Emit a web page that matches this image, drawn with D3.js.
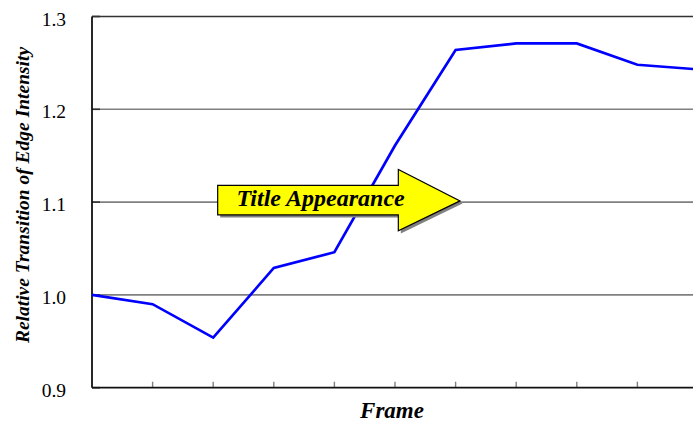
<!DOCTYPE html>
<html><head><meta charset="utf-8">
<script src="https://cdn.jsdelivr.net/npm/d3@7"></script>
<style>body{margin:0;background:#fff;overflow:hidden}svg{display:block}</style>
</head><body>
<script>
const frames = [0,1,2,3,4,5,6,7,8,9,10];
const intensity = [1.000,0.990,0.954,1.029,1.046,1.161,1.264,1.271,1.271,1.248,1.243];
const yTicks = [0.9,1.0,1.1,1.2,1.3];
const yTickLabels = ["0.9","1.0","1.1","1.2","1.3"];
const xTicks = [1,2,3,4,5,6,7,8,9];
const annotation = "Title Appearance";
const xTitle = "Frame";
const yTitle = "Relative Transition of Edge Intensity";

const W=693,H=423;
const svg=d3.select("body").append("svg").attr("width",W).attr("height",H);
const x=d3.scaleLinear().domain([0,10]).range([92,698]);
const y=d3.scaleLinear().domain([0.9,1.3]).range([387.7,16.5]);
const SERIF="'Liberation Serif', 'Times New Roman', serif";
function serif(sel,size,bi){
  sel.style("font-family",SERIF).style("font-size",size+"px");
  if(bi) sel.style("font-weight","bold").style("font-style","italic");
  return sel;
}

svg.append("g").selectAll("line").data(yTicks.filter(v=>v>0.9&&v<1.3)).join("line")
 .attr("x1",x(0)).attr("x2",x(10)).attr("y1",d=>y(d)).attr("y2",d=>y(d))
 .attr("stroke","#808080").attr("stroke-width",1.6);
svg.append("g").selectAll("line").data(yTicks).join("line")
 .attr("x1",x(0)).attr("x2",x(0)+8).attr("y1",d=>y(d)).attr("y2",d=>y(d))
 .attr("stroke","#333").attr("stroke-width",1.6);
svg.append("line").attr("x1",x(0)).attr("x2",x(10)).attr("y1",y(1.3)).attr("y2",y(1.3))
 .attr("stroke","#333").attr("stroke-width",1.6);
svg.append("g").selectAll("line").data(xTicks).join("line")
 .attr("x1",d=>x(d)).attr("x2",d=>x(d)).attr("y1",y(0.9)).attr("y2",y(0.9)-6)
 .attr("stroke","#808080").attr("stroke-width",1.4);
svg.append("line").attr("x1",x(0)).attr("x2",x(10)).attr("y1",y(0.9)).attr("y2",y(0.9))
 .attr("stroke","#111").attr("stroke-width",1.8);
svg.append("line").attr("x1",x(0)).attr("x2",x(0)).attr("y1",y(1.3)).attr("y2",y(0.9))
 .attr("stroke","#111").attr("stroke-width",1.8);

serif(svg.append("g").selectAll("text").data(yTicks).join("text")
 .attr("x",66).attr("y",d=>y(d)+9).attr("text-anchor","end").attr("fill","#000")
 .text((d,i)=>yTickLabels[i]),19.5,false);

svg.append("path").datum(frames.map((f,i)=>[f,intensity[i]]))
 .attr("d",d3.line().x(d=>x(d[0])).y(d=>y(d[1])))
 .attr("fill","none").attr("stroke","#0000ff").attr("stroke-width",2.7).attr("stroke-linejoin","miter");

const ax0=x(2.074), axBody=x(5.055), axTip=x(6.073), ay=y(1.1013);
const pts=[[ax0,ay-15.5],[axBody,ay-15.5],[axBody,ay-31.5],[axTip,ay],[axBody,ay+30],[axBody,ay+14],[ax0,ay+14]];
const arrowPath=d3.line()(pts)+"Z";
svg.append("path").attr("d",arrowPath).attr("transform","translate(2.5,2.5)").attr("fill","#808080");
svg.append("path").attr("d",arrowPath).attr("fill","#ffff00").attr("stroke","#000").attr("stroke-width",1.2);
serif(svg.append("text").attr("x",ax0+103).attr("y",ay+5).attr("text-anchor","middle")
 .text(annotation),24,true);

serif(svg.append("text").attr("x",392).attr("y",417.5).attr("text-anchor","middle")
 .text(xTitle),23,true);
serif(svg.append("text").attr("transform","translate(29,195) rotate(-90)").attr("text-anchor","middle")
 .text(yTitle),19.5,true);
</script>
</body></html>
